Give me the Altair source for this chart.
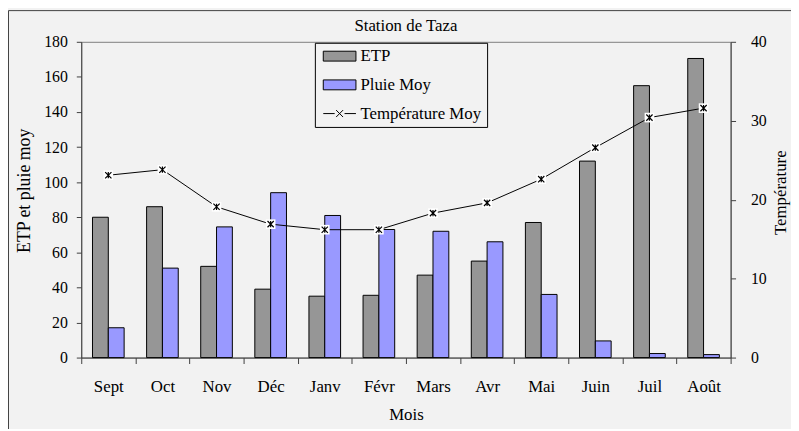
import altair as alt
import pandas as pd

months = ["Sept", "Oct", "Nov", "Déc", "Janv", "Févr", "Mars", "Avr", "Mai", "Juin", "Juil", "Août"]
etp = [80, 86, 52, 39, 35, 35.5, 47, 55, 77, 112, 155, 170.5]
pluie = [17, 51, 74.5, 94, 81, 73, 72, 66, 36, 9.5, 2.3, 1.7]
temperature = [23.1, 23.8, 19.1, 16.9, 16.2, 16.2, 18.3, 19.6, 22.6, 26.6, 30.4, 31.6]
series = ["ETP", "Pluie Moy", "Température Moy"]
series_colors = ["#969696", "#9999ff", "#ffffff"]
legend_shapes = [
    "M-1,-1L5.6,-1L5.6,1L-1,1Z",
    "M-1,-1L5.6,-1L5.6,1L-1,1Z",
    "M-1,0L1.3,0M3.3,0L5.6,0M1.6,-0.7L3,0.7M1.6,0.7L3,-0.7",
]

FONT = "Liberation Serif"

bar_rows = []
for i, m in enumerate(months):
    bar_rows.append({"Mois": m, "series": series[0], "value": etp[i], "color": series_colors[0]})
    bar_rows.append({"Mois": m, "series": series[1], "value": pluie[i], "color": series_colors[1]})
bar_df = pd.DataFrame(bar_rows)
temp_df = pd.DataFrame({"Mois": months, "temp": temperature})
leg_df = pd.DataFrame({"series": series})
frame_df = pd.DataFrame({"k": [0]})

x_enc = alt.X(
    "Mois:N",
    sort=months,
    scale=alt.Scale(domain=months, paddingInner=0, paddingOuter=0),
    axis=alt.Axis(
        title="Mois", tickBand="extent", labelAngle=0, labelFontSize=17,
        labelPadding=15, tickSize=6, titlePadding=13, titleFontSize=17,
    ),
)

bars = alt.Chart(bar_df).mark_bar(stroke="black", strokeWidth=1).encode(
    x=x_enc,
    xOffset=alt.XOffset(
        "series:N", sort=series[:2],
        scale=alt.Scale(domain=series[:2], paddingInner=0, paddingOuter=0.71),
    ),
    y=alt.Y(
        "value:Q",
        scale=alt.Scale(domain=[0, 180], nice=False),
        axis=alt.Axis(
            title="ETP et pluie moy", values=list(range(0, 181, 20)),
            labelFontSize=16, labelPadding=9, tickSize=5, titlePadding=10,
            titleFontSize=18, titleY=150,
        ),
    ),
    color=alt.Color("color:N", scale=None),
)

y_t = alt.Y(
    "temp:Q",
    scale=alt.Scale(domain=[0, 40], nice=False),
    axis=alt.Axis(
        orient="right", title="Température", values=[0, 10, 20, 30, 40],
        labelFontSize=16, labelPadding=15, tickSize=5, titlePadding=23,
        titleFontSize=17, titleAngle=270, titleY=152,
    ),
)
base_t = alt.Chart(temp_df).encode(x=x_enc, y=y_t)
line = base_t.mark_line(color="black", strokeWidth=1)
boxes = base_t.mark_point(shape="square", filled=True, color="white", size=95, opacity=1)
stars = base_t.mark_point(
    shape="M-1,-1L1,1M-1,1L1,-1M0,-1L0,1", filled=False, color="black",
    size=40, strokeWidth=1.2, opacity=1,
)
temp_layer = alt.layer(line, boxes, stars)

legend_def = alt.Legend(
    title=None, orient="none", legendX=236, legendY=1, direction="vertical",
    fillColor="#f2f2f2", strokeColor="black", padding=5,
    symbolSize=100, symbolStrokeWidth=1,
    labelFont=FONT, labelFontSize=17, labelColor="black", labelOffset=24,
    rowPadding=11, labelLimit=300,
)
legend_layer = alt.Chart(leg_df).mark_point(filled=True, opacity=1).encode(
    fill=alt.Fill("series:N", scale=alt.Scale(domain=series, range=series_colors), legend=legend_def),
    stroke=alt.Stroke("series:N", scale=alt.Scale(domain=series, range=["black", "black", "black"]), legend=legend_def),
    shape=alt.Shape("series:N", scale=alt.Scale(domain=series, range=legend_shapes), legend=legend_def),
).transform_filter("false")

frame = alt.Chart(frame_df).mark_rect(fill="transparent", stroke="#404040", strokeWidth=1).encode(
    x=alt.value(-73.5), x2=alt.value(900), y=alt.value(-31.5), y2=alt.value(600)
)

chart = alt.layer(frame, bars, temp_layer, legend_layer).resolve_scale(
    y="independent"
).properties(
    width=656, height=319,
    title=alt.TitleParams("Station de Taza", fontSize=17, font=FONT, fontWeight="normal",
                          color="black", anchor="middle", offset=11, dy=36, frame="group"),
    autosize=alt.AutoSizeParams(type="none"),
    padding={"left": 74, "top": 32, "right": 61, "bottom": 70},
).configure(
    background="#f2f2f2", font=FONT,
).configure_view(
    fill="white", stroke="#808080", strokeWidth=1,
).configure_axis(
    labelFont=FONT, titleFont=FONT, labelColor="black", titleColor="black",
    titleFontWeight="normal", domainColor="#404040", tickColor="#404040",
    grid=False,
)

chart.save("out.html", embed_options={"renderer": "svg", "actions": False})
